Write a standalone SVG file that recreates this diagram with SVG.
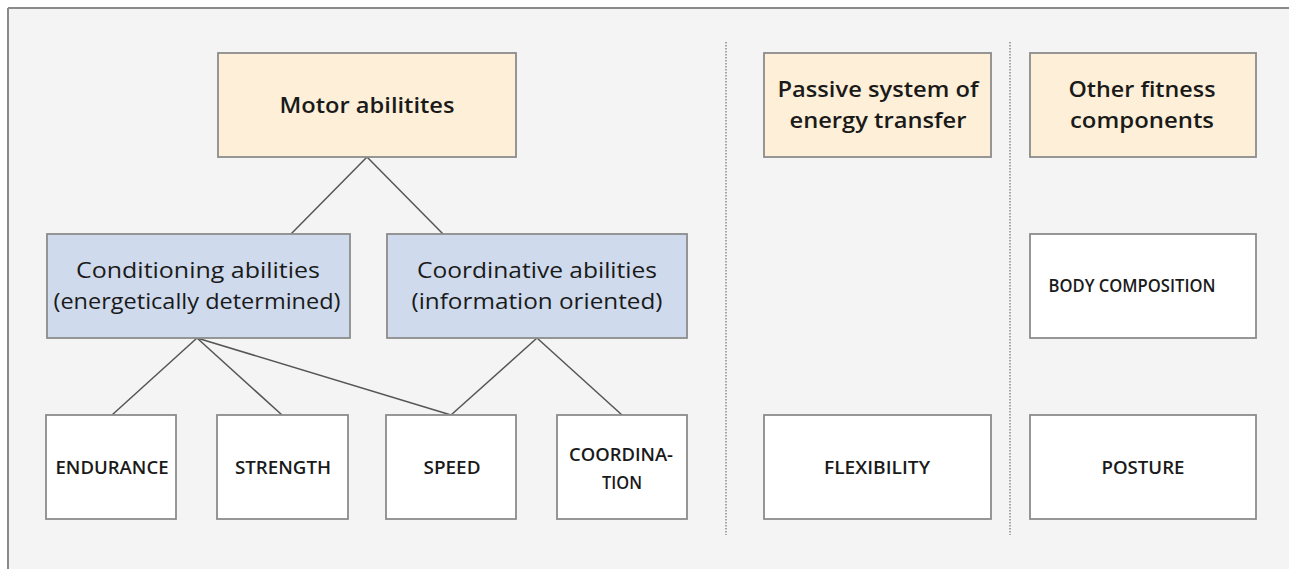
<svg xmlns="http://www.w3.org/2000/svg" width="1289" height="569" viewBox="0 0 1289 569">
<style>
.box{stroke:#8c8c8c;stroke-width:1.8}
.tan{fill:#fef0d8}
.blue{fill:#cfdaed}
.white{fill:#ffffff}
.t{font-family:"Open Sans","Liberation Sans",sans-serif;fill:#1a1a1a;text-anchor:middle;dominant-baseline:central}
.h{font-size:22px;font-weight:600}
.m{font-size:22px}
.c{font-size:18px;font-weight:600}
.conn line{stroke:#555;stroke-width:1.5}
.div{stroke:#8a8a8a;stroke-width:1.5;stroke-dasharray:1.5 1.5}
</style>
<rect x="0" y="0" width="1289" height="569" fill="#ffffff"/>
<rect x="8" y="8" width="1281" height="561" fill="#f4f4f4"/>
<line x1="8" y1="8" x2="1289" y2="8" stroke="#8a8a8a" stroke-width="2"/>
<line x1="8" y1="8" x2="8" y2="569" stroke="#8a8a8a" stroke-width="2"/>
<line class="div" x1="726" y1="42" x2="726" y2="535"/>
<line class="div" x1="1010" y1="42" x2="1010" y2="535"/>
<g class="conn">
<line x1="367" y1="157" x2="291" y2="234"/>
<line x1="367" y1="157" x2="443" y2="234"/>
<line x1="197" y1="338" x2="112" y2="415"/>
<line x1="197" y1="338" x2="282" y2="415"/>
<line x1="197" y1="338" x2="451" y2="415"/>
<line x1="537" y1="338" x2="451" y2="415"/>
<line x1="537" y1="338" x2="622" y2="415"/>
</g>
<g id="motor"><rect class="box tan" x="218" y="53" width="298" height="104"/><text class="t h" x="367" y="104" textLength="175" lengthAdjust="spacingAndGlyphs">Motor abilitites</text></g>
<g id="conditioning"><rect class="box blue" x="47" y="234" width="303" height="104"/><text class="t m" x="198" y="269" textLength="244" lengthAdjust="spacingAndGlyphs">Conditioning abilities</text><text class="t m" x="197" y="300" textLength="287" lengthAdjust="spacingAndGlyphs">(energetically determined)</text></g>
<g id="coordinative"><rect class="box blue" x="387" y="234" width="300" height="104"/><text class="t m" x="537" y="269" textLength="240" lengthAdjust="spacingAndGlyphs">Coordinative abilities</text><text class="t m" x="537" y="300" textLength="251" lengthAdjust="spacingAndGlyphs">(information oriented)</text></g>
<g id="endurance"><rect class="box white" x="46" y="415" width="130" height="104"/><text class="t c" x="112" y="467" textLength="113" lengthAdjust="spacingAndGlyphs">ENDURANCE</text></g>
<g id="strength"><rect class="box white" x="217" y="415" width="131" height="104"/><text class="t c" x="283" y="467" textLength="96" lengthAdjust="spacingAndGlyphs">STRENGTH</text></g>
<g id="speed"><rect class="box white" x="386" y="415" width="130" height="104"/><text class="t c" x="452" y="467" textLength="57" lengthAdjust="spacingAndGlyphs">SPEED</text></g>
<g id="coordination"><rect class="box white" x="557" y="415" width="130" height="104"/><text class="t c" x="621" y="454" textLength="104" lengthAdjust="spacingAndGlyphs">COORDINA-</text><text class="t c" x="622" y="482" textLength="40" lengthAdjust="spacingAndGlyphs">TION</text></g>
<g id="passive"><rect class="box tan" x="764" y="53" width="227" height="104"/><text class="t h" x="878" y="88" textLength="201" lengthAdjust="spacingAndGlyphs">Passive system of</text><text class="t h" x="878" y="119" textLength="177" lengthAdjust="spacingAndGlyphs">energy transfer</text></g>
<g id="other"><rect class="box tan" x="1030" y="53" width="226" height="104"/><text class="t h" x="1142" y="88" textLength="147" lengthAdjust="spacingAndGlyphs">Other fitness</text><text class="t h" x="1142" y="119" textLength="144" lengthAdjust="spacingAndGlyphs">components</text></g>
<g id="body"><rect class="box white" x="1030" y="234" width="226" height="104"/><text class="t c" x="1132" y="285" textLength="167" lengthAdjust="spacingAndGlyphs">BODY COMPOSITION</text></g>
<g id="flexibility"><rect class="box white" x="764" y="415" width="227" height="104"/><text class="t c" x="877" y="467" textLength="106" lengthAdjust="spacingAndGlyphs">FLEXIBILITY</text></g>
<g id="posture"><rect class="box white" x="1030" y="415" width="226" height="104"/><text class="t c" x="1143" y="467" textLength="83" lengthAdjust="spacingAndGlyphs">POSTURE</text></g>
</svg>
